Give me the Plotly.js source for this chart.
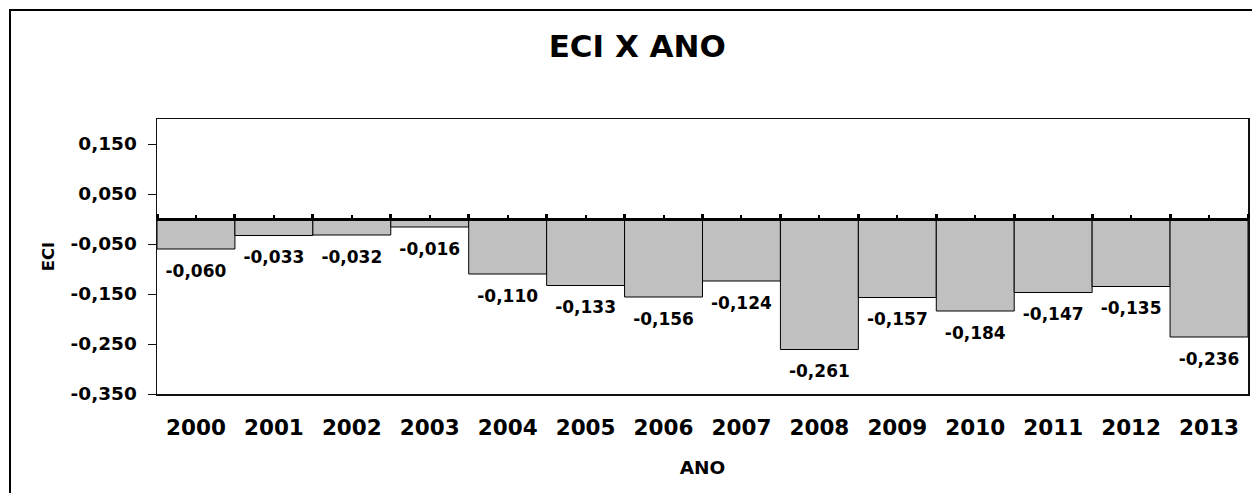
<!DOCTYPE html>
<html>
<head>
<meta charset="utf-8">
<script src="https://cdn.plot.ly/plotly-3.0.1.min.js"></script>
<style>
  html, body { margin: 0; padding: 0; background: #ffffff; }
  #wrap { position: relative; width: 1252px; height: 493px; overflow: hidden; }
  #chart { position: absolute; left: 0; top: 0; width: 1252px; height: 493px; }
  #frame { position: absolute; left: 9px; top: 9px; width: 1260px; height: 500px;
           border-left: 2px solid #000; border-top: 2px solid #000; pointer-events: none; }
</style>
</head>
<body>
<div id="wrap">
  <div id="chart"></div>
  <div id="frame"></div>
</div>
<script>
// ---- data ----
const years = ['2000','2001','2002','2003','2004','2005','2006','2007','2008','2009','2010','2011','2012','2013'];
const eci = [-0.060,-0.033,-0.032,-0.016,-0.110,-0.133,-0.156,-0.124,-0.261,-0.157,-0.184,-0.147,-0.135,-0.236];
const yTickVals = [-0.35,-0.25,-0.15,-0.05,0.05,0.15];
const yTickText = ['-0,350','-0,250','-0,150','-0,050','0,050','0,150'];
const yRange = [-0.35, 0.2];

const fmt = v => v.toFixed(3).replace('.', ',');
const labels = eci.map(fmt);
const FONT = 'DejaVu Sans, Arial, sans-serif';
const xRange = [-0.5, years.length - 0.5];

const bars = {
  type: 'bar', x: years, y: eci,
  marker: { color: '#C0C0C0', line: { color: '#000000', width: 1 } },
  hoverinfo: 'skip', showlegend: false
};
const txt = {
  type: 'scatter', mode: 'markers+text', x: years, y: eci,
  text: labels, textposition: 'bottom center',
  textfont: { family: FONT, size: 17, color: '#000', weight: 'bold' },
  marker: { size: 22, color: 'rgba(0,0,0,0)' },
  cliponaxis: false, hoverinfo: 'skip', showlegend: false
};
// helper trace to bring up the overlay axis drawn along zero
const zeroAxisTrace = {
  type: 'scatter', mode: 'markers', x: xRange, y: [0, 0], xaxis: 'x2', yaxis: 'y',
  marker: { size: 1, color: 'rgba(0,0,0,0)' }, hoverinfo: 'skip', showlegend: false
};

const layout = {
  width: 1252, height: 493,
  margin: { l: 157, r: 4, t: 119, b: 99 },
  paper_bgcolor: '#ffffff', plot_bgcolor: '#ffffff',
  separators: ',.',
  bargap: 0,
  showlegend: false,
  font: { family: FONT, color: '#000' },
  title: {
    text: '<b>ECI X ANO</b>', xref: 'container', x: 0.509, xanchor: 'center',
    yref: 'container', y: 1 - 46 / 493, yanchor: 'middle',
    font: { family: FONT, size: 31, color: '#000' }
  },
  xaxis: {
    type: 'category', range: xRange, showgrid: false, zeroline: false,
    showline: true, mirror: true, linecolor: '#111', linewidth: 1.5,
    ticks: '', ticklabelstandoff: 14,
    tickfont: { family: FONT, size: 21.5, color: '#000', weight: 'bold' },
    title: { text: '<b>ANO</b>', standoff: 22, font: { family: FONT, size: 18.5, color: '#000' } },
    automargin: false, fixedrange: true
  },
  xaxis2: {
    overlaying: 'x', anchor: 'free', side: 'top',
    position: (0 - yRange[0]) / (yRange[1] - yRange[0]),
    range: xRange, tick0: -0.5, dtick: 1,
    ticks: 'outside', ticklen: 4, tickwidth: 3, tickcolor: '#000',
    minor: { dtick: 0.5, tick0: 0, ticks: 'outside', ticklen: 3, tickwidth: 2, tickcolor: '#000' },
    showticklabels: false, showgrid: false, zeroline: false,
    showline: true, linecolor: '#000', linewidth: 3, fixedrange: true
  },
  yaxis: {
    range: yRange, tickvals: yTickVals, ticktext: yTickText,
    showgrid: false, zeroline: false,
    showline: true, mirror: true, linecolor: '#111', linewidth: 1.5,
    ticks: 'outside', ticklen: 8, tickwidth: 1, tickcolor: '#111',
    ticklabelstandoff: 7,
    tickfont: { family: FONT, size: 18.5, color: '#000', weight: 'bold' },
    title: { text: '<b>ECI</b>', standoff: 12, font: { family: FONT, size: 16.5, color: '#000' } },
    automargin: false, fixedrange: true
  }
};

Plotly.newPlot('chart', [bars, txt, zeroAxisTrace], layout, { staticPlot: true, displayModeBar: false });
</script>
</body>
</html>
